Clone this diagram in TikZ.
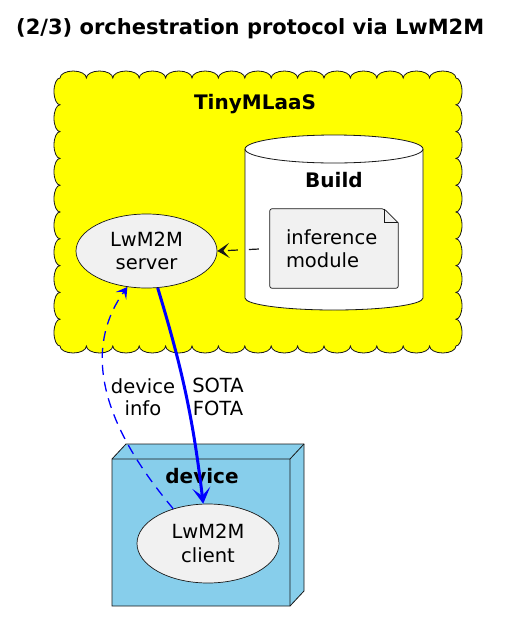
\documentclass[tikz,border=0pt]{standalone}
\usepackage{fontspec}
\setmainfont{DejaVu Sans}
\usetikzlibrary{arrows.meta,shapes.geometric}
\definecolor{umlgray}{HTML}{F1F1F1}
\definecolor{umlline}{HTML}{181818}
\definecolor{skyblue}{HTML}{87CEEB}
\definecolor{saasyellow}{HTML}{FFFF00}
\begin{document}
\begin{tikzpicture}[x=1pt,y=1pt]
\tikzset{usecase/.style={ellipse,draw=umlline,fill=umlgray,line width=0.7pt,inner sep=0pt,align=center,font=\fontsize{19.5}{23.3}\selectfont},
  lbl/.style={align=center,font=\fontsize{19.5}{22.5}\selectfont},
  head/.style={anchor=base,font=\fontsize{20}{24}\selectfont\bfseries}}
\useasboundingbox (0,0) rectangle (507,-630);
% title
\node[anchor=base west,inner sep=0pt,font=\fontsize{21}{24}\selectfont\bfseries] (title) at (16,-34) {(2/3) orchestration protocol via LwM2M};
% the cloud around the service: scalloped edges, 15 bumps across, 10 down
\draw[umlline,line width=0.8pt,fill=saasyellow] (60,-78)
  \foreach \i in {1,...,15} {arc[start angle=180,end angle=0,x radius=13.2,y radius=7]}
  \foreach \i in {1,...,10} {arc[start angle=90,end angle=-90,x radius=6,y radius=13.4]}
  \foreach \i in {1,...,15} {arc[start angle=0,end angle=-180,x radius=13.2,y radius=7]}
  \foreach \i in {1,...,10} {arc[start angle=270,end angle=90,x radius=6,y radius=13.4]} -- cycle;
\node[head] (saas) at (255,-109) {TinyMLaaS};
% database holding the build
\draw[umlline,line width=0.8pt,fill=white] (245,-149) -- (245,-298) arc[start angle=180,end angle=360,x radius=89,y radius=12]
  -- (423,-149) arc[start angle=0,end angle=180,x radius=89,y radius=14] -- cycle;
\draw[umlline,line width=0.8pt] (245,-149) arc[start angle=180,end angle=360,x radius=89,y radius=14];
\node[head] (build) at (334,-187) {Build};
\node[lbl,align=left,text width=96pt,inner xsep=16pt,inner ysep=0pt,minimum height=79pt] (module) at (334,-248.5) {inference\\module};
\draw[umlline,line width=0.7pt,fill=umlgray,rounded corners=2pt] (module.north west) -- ([xshift=-14pt]module.north east)
  [sharp corners] -- ([yshift=-14pt]module.north east) [rounded corners=2pt] -- (module.south east) -- (module.south west) -- cycle;
\draw[umlline,line width=0.7pt] ([xshift=-14pt]module.north east) |- ([yshift=-14pt]module.north east);
\node[lbl,align=left,text width=96pt,inner xsep=16pt,inner ysep=0pt,minimum height=79pt] at (module) {inference\\module};
\node[usecase,minimum width=141pt,minimum height=74pt] (server) at (146.5,-251) {LwM2M\\server};
\draw[umlline,line width=1.2pt,dash pattern=on 10pt off 11pt,dash phase=10pt,-{Stealth[length=12pt,width=15pt,inset=6pt]}] (module.west) -- (server.east);
% the device node
\draw[umlline,line width=0.8pt,fill=skyblue] (112,-459) -- (126,-444) -- (304,-444) -- (304,-591) -- (290,-606) -- (112,-606) -- cycle;
\draw[umlline,line width=0.8pt] (112,-459) -- (290,-459) -- (304,-444) (290,-459) -- (290,-606);
\node[head] (device) at (202,-483) {device};
\node[usecase,minimum width=142pt,minimum height=79pt] (client) at (208,-543.5) {LwM2M\\client};
% messages
\draw[blue,line width=1.3pt,dash pattern=on 10pt off 7pt,-{Stealth[length=11pt,width=13pt,inset=5pt]}]
  (client.135) .. controls (90,-410) and (89,-340) .. (server.-118);
\draw[blue,line width=3pt,-{Stealth[length=16pt,width=18pt,inset=8pt]}] (server) to[bend left=5] (client);
\node[lbl] (info) at (143,-397) {device\\info};
\node[lbl] (ota) at (218,-397) {SOTA\\FOTA};
\end{tikzpicture}
\end{document}
